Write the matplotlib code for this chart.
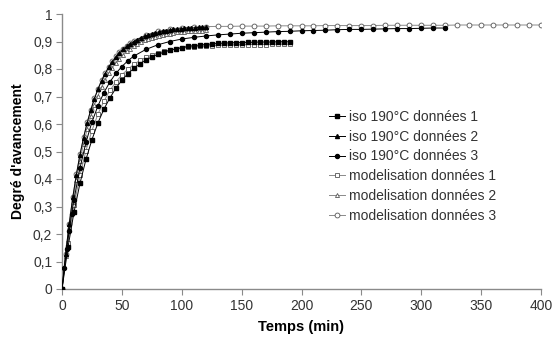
import matplotlib
matplotlib.use("Agg")
import matplotlib.pyplot as plt

plt.rcParams['font.family'] = ['Liberation Sans', 'DejaVu Sans']

# --- data ---
t1 = [0, 5, 10, 15, 20, 25, 30, 35, 40, 45, 50, 55, 60, 65, 70, 75, 80, 85, 90, 95,
      100, 105, 110, 115, 120, 125, 130, 135, 140, 145, 150, 155, 160, 165, 170, 175,
      180, 185, 190]
iso1 = [0, 0.152, 0.279, 0.384, 0.471, 0.543, 0.604, 0.654, 0.695, 0.730, 0.759, 0.783,
        0.802, 0.819, 0.833, 0.844, 0.853, 0.861, 0.868, 0.873, 0.878, 0.882, 0.885,
        0.887, 0.889, 0.891, 0.893, 0.894, 0.895, 0.896, 0.896, 0.897, 0.897, 0.898,
        0.898, 0.898, 0.899, 0.899, 0.899]
mod1 = [0, 0.167, 0.304, 0.413, 0.503, 0.576, 0.636, 0.683, 0.722, 0.753, 0.779, 0.799,
        0.817, 0.831, 0.842, 0.851, 0.858, 0.864, 0.869, 0.873, 0.876, 0.879, 0.881,
        0.882, 0.884, 0.885, 0.886, 0.887, 0.887, 0.888, 0.888, 0.889, 0.889, 0.889,
        0.889, 0.890, 0.890, 0.890, 0.890]

t2 = [0, 3, 6, 9, 12, 15, 18, 21, 24, 27, 30, 33, 36, 39, 42, 45, 48, 51, 54, 57, 60,
      63, 66, 69, 72, 75, 78, 81, 84, 87, 90, 93, 96, 99, 102, 105, 108, 111, 114, 117, 120]
iso2 = [0, 0.127, 0.237, 0.333, 0.416, 0.488, 0.550, 0.604, 0.650, 0.691, 0.726, 0.757,
        0.783, 0.806, 0.826, 0.843, 0.858, 0.871, 0.882, 0.892, 0.900, 0.907, 0.914,
        0.919, 0.924, 0.928, 0.932, 0.935, 0.938, 0.940, 0.942, 0.944, 0.945, 0.946,
        0.948, 0.949, 0.949, 0.950, 0.951, 0.951, 0.952]
mod2 = [0, 0.120, 0.226, 0.317, 0.397, 0.467, 0.528, 0.581, 0.628, 0.668, 0.703, 0.734,
        0.761, 0.784, 0.805, 0.823, 0.838, 0.852, 0.864, 0.874, 0.883, 0.891, 0.898,
        0.904, 0.909, 0.914, 0.918, 0.921, 0.924, 0.927, 0.929, 0.931, 0.933, 0.935,
        0.936, 0.937, 0.938, 0.939, 0.940, 0.940, 0.941]

t3 = [0, 2, 4, 6, 8, 10, 15, 20, 25, 30, 35, 40, 45, 50, 55, 60, 70, 80, 90, 100, 110,
      120, 130, 140, 150, 160, 170, 180, 190, 200, 210, 220, 230, 240, 250, 260, 270,
      280, 290, 300, 310, 320]
iso3 = [0, 0.077, 0.147, 0.212, 0.271, 0.325, 0.440, 0.533, 0.607, 0.666, 0.714, 0.753,
        0.784, 0.809, 0.830, 0.847, 0.871, 0.888, 0.900, 0.909, 0.915, 0.920, 0.924,
        0.927, 0.930, 0.932, 0.934, 0.936, 0.937, 0.939, 0.940, 0.941, 0.943, 0.944,
        0.944, 0.945, 0.946, 0.947, 0.947, 0.948, 0.949, 0.949]

tm3 = [0, 3, 6, 9, 12, 15, 18, 21, 24, 27, 30, 33, 36, 39, 42, 45, 48, 51, 54, 57, 60,
       70, 80, 90, 100, 110, 120, 130, 140, 150, 160, 170, 180, 190, 200, 210, 220, 230,
       240, 250, 260, 270, 280, 290, 300, 310, 320, 330, 340, 350, 360, 370, 380, 390, 400]
mod3 = [0, 0.127, 0.238, 0.334, 0.417, 0.490, 0.552, 0.606, 0.652, 0.693, 0.728, 0.759,
        0.785, 0.808, 0.828, 0.846, 0.861, 0.874, 0.885, 0.894, 0.903, 0.924, 0.937,
        0.945, 0.950, 0.953, 0.954, 0.955, 0.955, 0.956, 0.956, 0.956, 0.957, 0.957,
        0.957, 0.957, 0.958, 0.958, 0.958, 0.958, 0.958, 0.959, 0.959, 0.959, 0.959,
        0.959, 0.959, 0.960, 0.960, 0.960, 0.960, 0.960, 0.960, 0.960, 0.960]

labels = ["iso 190°C données 1", "iso 190°C données 2", "iso 190°C données 3",
          "modelisation données 1", "modelisation données 2", "modelisation données 3"]
xticks = [0, 50, 100, 150, 200, 250, 300, 350, 400]
yticks = [0, 0.1, 0.2, 0.3, 0.4, 0.5, 0.6, 0.7, 0.8, 0.9, 1]
ytick_labels = ["0", "0,1", "0,2", "0,3", "0,4", "0,5", "0,6", "0,7", "0,8", "0,9", "1"]

fig = plt.figure(figsize=(5.58, 3.45), dpi=100)
ax = fig.add_axes([62/558, 1 - 289/345, (541-62)/558, (289-14)/345])

gray = "#8a8a8a"
ms = 2.9
ax.plot(t1, iso1, color="black", lw=0.7, marker="s", ms=ms*0.9, mfc="black", mec="black", label=labels[0], zorder=4)
ax.plot(t2, iso2, color="black", lw=0.7, marker="^", ms=ms, mfc="black", mec="black", label=labels[1], zorder=4)
ax.plot(t3, iso3, color="black", lw=0.7, marker="o", ms=ms, mfc="black", mec="black", label=labels[2], zorder=4)
ax.plot(t1, mod1, color=gray, lw=0.7, marker="s", ms=ms, mfc="white", mec="#555555", mew=0.6, label=labels[3], zorder=3)
ax.plot(t2, mod2, color=gray, lw=0.7, marker="^", ms=ms, mfc="white", mec="#555555", mew=0.6, label=labels[4], zorder=3)
ax.plot(tm3, mod3, color=gray, lw=0.7, marker="o", ms=ms+0.6, mfc="white", mec="#555555", mew=0.6, label=labels[5], zorder=3)

ax.set_xlim(0, 400)
ax.set_ylim(0, 1)
ax.set_xticks(xticks)
ax.set_yticks(yticks)
ax.set_yticklabels(ytick_labels)
for s in ["top", "right"]:
    ax.spines[s].set_visible(False)
for s in ["left", "bottom"]:
    ax.spines[s].set_color(gray)
    ax.spines[s].set_linewidth(1.0)
ax.tick_params(axis="both", direction="out", length=4, color=gray, labelsize=10,
               labelcolor="#333333", pad=3)
ax.set_xlabel("Temps (min)", fontsize=10.5, fontweight="bold", labelpad=5)
ax.set_ylabel("Degré d'avancement", fontsize=10, fontweight="bold", labelpad=6)

leg = ax.legend(loc="upper left", bbox_to_anchor=(0.545, 0.672), frameon=False,
                fontsize=10, handlelength=1.2, handletextpad=0.3,
                labelspacing=0.42, borderaxespad=0)
for txt in leg.get_texts():
    txt.set_color("#333333")

fig.savefig("out.png", dpi=100)
